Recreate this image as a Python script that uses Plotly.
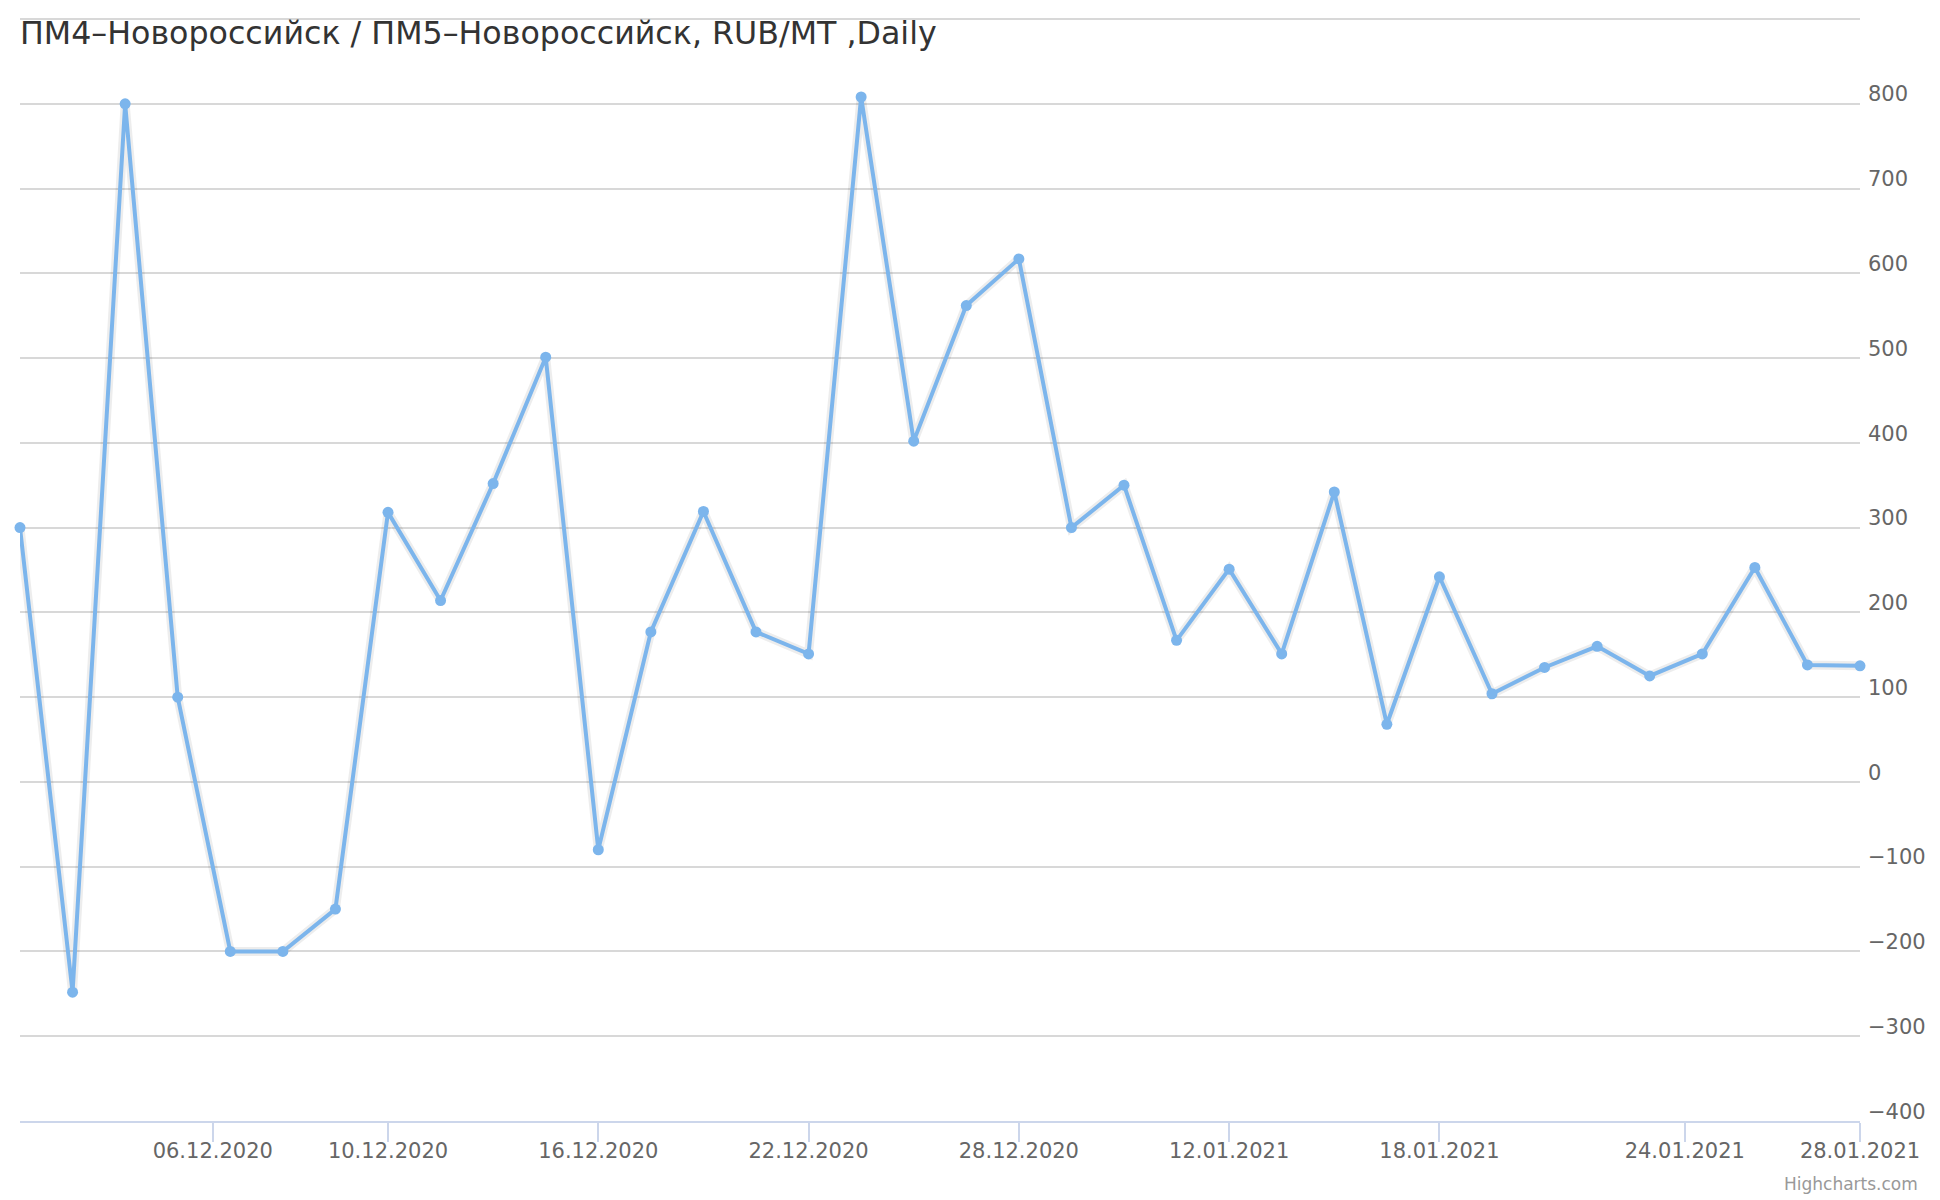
import plotly.graph_objects as go
import numpy as np
import pandas as pd

# ---- data ----
dates = [
    "01.12.2020", "02.12.2020", "03.12.2020", "04.12.2020", "07.12.2020", "08.12.2020",
    "09.12.2020", "10.12.2020", "11.12.2020", "14.12.2020", "15.12.2020", "16.12.2020",
    "17.12.2020", "18.12.2020", "21.12.2020", "22.12.2020", "23.12.2020", "24.12.2020",
    "25.12.2020", "28.12.2020", "29.12.2020", "30.12.2020", "11.01.2021", "12.01.2021",
    "13.01.2021", "14.01.2021", "15.01.2021", "18.01.2021", "19.01.2021", "20.01.2021",
    "21.01.2021", "22.01.2021", "25.01.2021", "26.01.2021", "27.01.2021", "28.01.2021",
]
values = [
    300, -248, 800, 100, -200, -200, -150, 318, 214, 352, 501, -80,
    177, 319, 177, 151, 808, 402, 562, 617, 300, 350, 167, 251,
    151, 342, 68, 242, 104, 135, 160, 125, 151, 253, 138, 137,
]
x_tick_labels = ["06.12.2020", "10.12.2020", "16.12.2020", "22.12.2020", "28.12.2020",
                 "12.01.2021", "18.01.2021", "24.01.2021", "28.01.2021"]
y_tick_values = [-400, -300, -200, -100, 0, 100, 200, 300, 400, 500, 600, 700, 800]
y_tick_labels = ["\u2212400", "\u2212300", "\u2212200", "\u2212100", "0", "100", "200",
                 "300", "400", "500", "600", "700", "800"]
y_max = 900
y_min = -400
title_text = "ПМ4–Новороссийск / ПМ5–Новороссийск, RUB/MT ,Daily"

# ordinal (trading-day) positions
d = pd.to_datetime(dates, format="%d.%m.%Y")
idx = np.arange(len(dates))
d_num = d.values.astype("datetime64[D]").astype(float)
tick_num = pd.to_datetime(x_tick_labels, format="%d.%m.%Y").values.astype("datetime64[D]").astype(float)
tick_pos = np.interp(tick_num, d_num, idx)

W, H = 1940, 1200
FONT = "DejaVu Sans"
LINE = "#7cb5ec"
GRID = "#d8d8d8"

fig = go.Figure()
# soft shadow under the line
fig.add_trace(go.Scatter(
    x=idx, y=values, mode="lines",
    line=dict(color="rgba(0,0,0,0.07)", width=9),
    hoverinfo="skip", showlegend=False, cliponaxis=False,
))
fig.add_trace(go.Scatter(
    x=idx, y=values, mode="lines+markers",
    line=dict(color=LINE, width=4),
    marker=dict(color=LINE, size=11),
    customdata=dates, hovertemplate="%{customdata}: %{y}<extra></extra>",
    showlegend=False, cliponaxis=False,
))

# top (unlabelled) gridline at the top of the axis range
fig.add_shape(type="line", xref="paper", yref="paper", x0=0, x1=1, y0=1, y1=1,
              line=dict(color=GRID, width=2), layer="below")

fig.update_layout(
    width=W, height=H,
    margin=dict(l=20, r=80, t=19, b=79, pad=0),
    paper_bgcolor="white", plot_bgcolor="white",
    font=dict(family=FONT, color="#666666", size=21),
    title=dict(
        text=title_text, x=20 / W, xanchor="left", xref="container",
        y=1 - 33 / H, yanchor="middle", yref="container",
        font=dict(family=FONT, size=31.7, color="#333333"),
    ),
    xaxis=dict(
        range=[0, len(dates) - 1],
        tickmode="array", tickvals=tick_pos, ticktext=x_tick_labels,
        showgrid=False, zeroline=False,
        showline=True, linecolor="#ccd6eb", linewidth=2,
        ticks="outside", ticklen=19, tickwidth=2, tickcolor="#ccd6eb",
        ticklabelstandoff=-9,
        tickfont=dict(family=FONT, size=21, color="#666666"),
    ),
    yaxis=dict(
        range=[y_min, y_max], side="right",
        tickmode="array", tickvals=y_tick_values, ticktext=y_tick_labels,
        showgrid=True, gridcolor=GRID, gridwidth=2,
        zeroline=False, showline=False, ticks="",
        ticklabelposition="outside top", ticklabelstandoff=7,
        ticklabelshift=5,
        tickfont=dict(family=FONT, size=21, color="#666666"),
    ),
    annotations=[dict(
        text="Highcharts.com", xref="paper", yref="paper",
        x=(1920 - 20) / (1860 - 20), y=(1121 - 1184) / (1121 - 19),
        xanchor="right", yanchor="middle", showarrow=False,
        font=dict(family=FONT, size=17, color="#999999"),
    )],
)

fig.write_html("out.html", config={"displayModeBar": False},
               post_script="document.body.style.margin='0';")
